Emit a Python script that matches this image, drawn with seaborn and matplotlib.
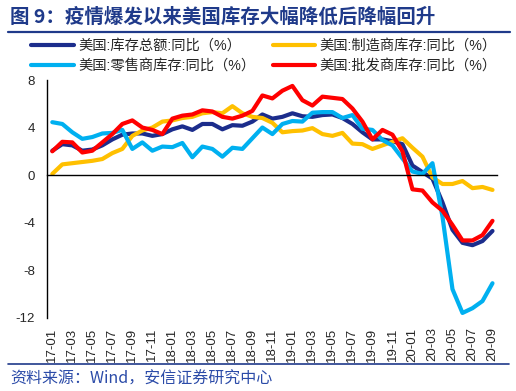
import matplotlib
matplotlib.use("Agg")
import matplotlib.pyplot as plt
import numpy as np
import pandas as pd
import seaborn as sns

months = ["17-01", "17-02", "17-03", "17-04", "17-05", "17-06", "17-07", "17-08", "17-09", "17-10", "17-11", "17-12",
          "18-01", "18-02", "18-03", "18-04", "18-05", "18-06", "18-07", "18-08", "18-09", "18-10", "18-11", "18-12",
          "19-01", "19-02", "19-03", "19-04", "19-05", "19-06", "19-07", "19-08", "19-09", "19-10", "19-11", "19-12",
          "20-01", "20-02", "20-03", "20-04", "20-05", "20-06", "20-07", "20-08", "20-09"]

tick_labels = ["17-01", "17-03", "17-05", "17-07", "17-09", "17-11", "18-01", "18-03", "18-05", "18-07", "18-09",
               "18-11", "19-01", "19-03", "19-05", "19-07", "19-09", "19-11", "20-01", "20-03", "20-05", "20-07", "20-09"]

total = [2.05, 2.6, 2.5, 2.05, 2.15, 2.5, 3.0, 3.4, 3.5, 3.5, 3.3, 3.45, 3.85, 4.1, 3.8, 4.3, 4.3, 3.85, 4.2, 4.15,
         4.5, 5.1, 4.75, 4.9, 5.2, 4.95, 4.9, 5.05, 5.1, 4.8, 4.3, 3.6, 3.0, 3.0, 2.85, 2.6, 0.8, 0.25, -0.3, -2.3,
         -4.6, -5.7, -5.9, -5.55, -4.7]
manufacturing = [0.1, 0.9, 1.0, 1.1, 1.2, 1.35, 1.85, 2.2, 3.3, 3.75, 4.0, 4.5, 4.6, 4.8, 4.9, 5.2, 5.3, 5.2, 5.8,
                 5.2, 4.9, 4.8, 4.4, 3.6, 3.7, 3.75, 3.95, 3.45, 3.3, 3.55, 2.65, 2.6, 2.2, 2.5, 2.8, 3.1, 2.3, 1.55,
                 -0.2, -0.75, -0.75, -0.5, -1.1, -1.0, -1.25]
retail = [4.45, 4.3, 3.6, 3.05, 3.2, 3.5, 3.55, 3.8, 2.2, 2.75, 2.05, 2.4, 2.35, 2.7, 1.5, 2.4, 2.2, 1.55, 2.3, 2.2,
          3.1, 4.0, 3.45, 4.3, 4.55, 4.5, 5.25, 5.3, 5.3, 4.8, 5.05, 3.9, 3.8, 2.95, 2.5, 1.4, 0.3, 0.1, 1.0, -3.5,
          -9.6, -11.6, -11.2, -10.6, -9.1]
wholesale = [2.0, 2.8, 2.75, 1.9, 2.05, 2.75, 3.45, 4.3, 4.6, 4.0, 3.8, 3.45, 4.75, 5.0, 5.1, 5.45, 5.35, 4.9, 4.75,
             5.0, 5.4, 6.7, 6.45, 7.1, 7.5, 6.3, 5.85, 6.6, 6.5, 6.4, 5.6, 4.5, 3.0, 3.8, 3.4, 2.0, -1.2, -1.3, -2.3,
             -3.0, -4.2, -5.5, -5.5, -5.05, -3.85]

series_names = ["美国:库存总额:同比（%）", "美国:制造商库存:同比（%）", "美国:零售商库存:同比（%）", "美国:批发商库存:同比（%）"]
series_values = [total, manufacturing, retail, wholesale]
colors = ["#1C2D8C", "#FFC000", "#00B0F0", "#FF0000"]

y_ticks = [-12, -8, -4, 0, 4, 8]

sns.set_style("white")
plt.rcParams["font.family"] = ["Liberation Sans", "Noto Sans CJK SC"]
plt.rcParams["axes.unicode_minus"] = False

df = pd.concat([pd.DataFrame({"month": months, "value": v, "series": n})
                for n, v in zip(series_names, series_values)], ignore_index=True)

fig = plt.figure(figsize=(5.16, 3.91), dpi=100)
ax = fig.add_axes([47.3 / 516, 1 - 317.7 / 391, (497.5 - 47.3) / 516, (317.7 - 80) / 391])

sns.lineplot(data=df, x="month", y="value", hue="series", hue_order=series_names,
             palette=colors, linewidth=3.0, ax=ax, sort=False)
ax.get_legend().remove()

ax.set_xlim(-0.5, len(months) - 0.5)
ax.set_ylim(-12, 8)
ax.set_yticks(y_ticks)
ax.set_yticklabels([str(t) for t in y_ticks])
ax.set_xlabel("")
ax.set_ylabel("")

for s in ["top", "right"]:
    ax.spines[s].set_visible(False)
ax.spines["left"].set_color("black")
ax.spines["left"].set_linewidth(1.0)
ax.spines["bottom"].set_position(("data", 0))
ax.spines["bottom"].set_color("black")
ax.spines["bottom"].set_linewidth(1.0)

# boundary tick marks on zero line
boundaries = np.arange(1.5, len(months) - 1, 2)
ax.set_xticks(boundaries)
ax.set_xticklabels([])
ax.tick_params(axis="x", direction="in", length=4, width=1, color="black")
ax.tick_params(axis="y", direction="in", length=3, width=1, color="black", labelsize=9.5, pad=9)

# labels at the bottom
sec = ax.secondary_xaxis("bottom")
sec.set_xticks([months.index(t) for t in tick_labels])
sec.set_xticklabels(tick_labels, rotation=90, fontsize=9.5)
sec.tick_params(length=0, pad=7)
sec.spines["bottom"].set_visible(False)

handles, labels = ax.get_legend_handles_labels()
order = [0, 2, 1, 3]
fig.legend([handles[i] for i in order], [labels[i] for i in order], ncol=2,
           loc="upper left", bbox_to_anchor=(31 / 516, 1 - 39 / 391), frameon=False,
           fontsize=10.3, handlelength=3.0, handletextpad=0.3, columnspacing=1.2,
           labelspacing=0.42, borderpad=0, borderaxespad=0)

title_color = "#1F3A8A"
fig.text(10 / 516, 1 - 17 / 391, "图 9：疫情爆发以来美国库存大幅降低后降幅回升", fontsize=14, fontweight="bold",
         color=title_color, va="center", ha="left", family=["Noto Sans CJK SC", "Liberation Sans"])
fig.add_artist(plt.Line2D([8 / 516, 510 / 516], [1 - 31.7 / 391, 1 - 31.7 / 391], color=title_color, linewidth=1.6))
fig.add_artist(plt.Line2D([8 / 516, 509 / 516], [1 - 364.3 / 391, 1 - 364.3 / 391], color=title_color, linewidth=1.2))
fig.text(10 / 516, 1 - 379 / 391, "资料来源：Wind，安信证券研究中心", fontsize=11.5, style="italic",
         color="#2B4BA8", va="center", ha="left", family=["Noto Sans CJK SC", "Liberation Sans"])

fig.savefig("out.png", dpi=100)
